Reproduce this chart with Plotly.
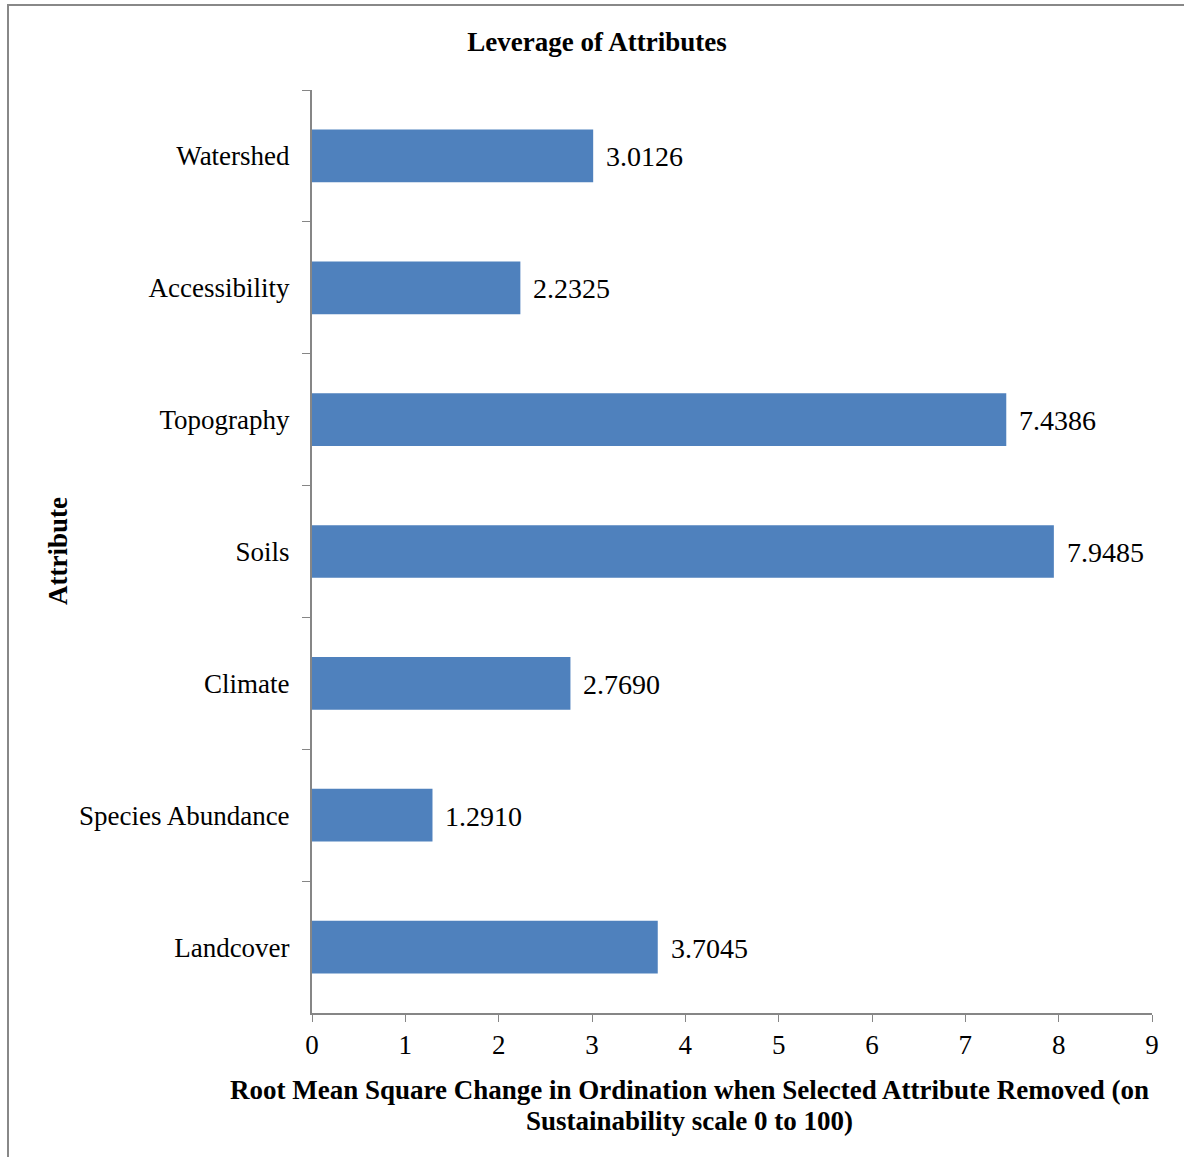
import plotly.graph_objects as go

categories = ["Watershed", "Accessibility", "Topography", "Soils", "Climate",
              "Species Abundance", "Landcover"]
values = [3.0126, 2.2325, 7.4386, 7.9485, 2.7690, 1.2910, 3.7045]
x_ticks = list(range(0, 10))
x_title_lines = ["Root Mean Square Change in Ordination when Selected Attribute Removed (on",
                 "Sustainability scale 0 to 100)"]

W, H = 1184, 1157
L, R, T, B = 312, 32, 90, 144
pw, ph = W - L - R, H - T - B

def px_x(p):
    return (p - L) / pw

def px_y(p):
    return (H - B - p) / ph

FONT = "Liberation Serif"
AX = "#868686"

fig = go.Figure(go.Bar(
    x=values, y=categories, orientation="h",
    marker=dict(color="#4F81BD", line=dict(width=0)),
    width=0.4,
))

for c, v in zip(categories, values):
    fig.add_annotation(x=v, y=c, text=f"{v:.4f}", showarrow=False,
                       xanchor="left", xshift=11, yshift=-1,
                       font=dict(family=FONT, size=28, color="black"))

for line, yc in zip(x_title_lines, [1090, 1121]):
    fig.add_annotation(xref="paper", yref="paper", x=px_x(689), y=px_y(yc),
                       xanchor="center", yanchor="middle", showarrow=False,
                       text=f"<b>{line}</b>",
                       font=dict(family=FONT, size=27, color="black"))
fig.add_annotation(xref="paper", yref="paper", x=px_x(58), y=px_y(551),
                   xanchor="center", yanchor="middle", showarrow=False, textangle=-90,
                   text="<b>Attribute</b>",
                   font=dict(family=FONT, size=27, color="black"))

# outer chart border
fig.add_shape(type="rect", xref="paper", yref="paper",
              x0=px_x(8), x1=px_x(1200), y0=px_y(1180), y1=px_y(5),
              line=dict(color="#888888", width=2), fillcolor="rgba(0,0,0,0)", layer="below")

fig.update_layout(
    width=W, height=H,
    margin=dict(l=L, r=R, t=T, b=B),
    paper_bgcolor="white", plot_bgcolor="white",
    showlegend=False,
    title=dict(text="<b>Leverage of Attributes</b>", x=597 / W, xanchor="center",
               y=1 - 42 / H, yanchor="middle",
               font=dict(family=FONT, size=27, color="black")),
    font=dict(family=FONT, size=27, color="black"),
)
fig.update_xaxes(range=[0, 9], tickvals=x_ticks, ticks="outside", ticklen=7,
                 tickcolor=AX, showline=True, linecolor=AX, linewidth=2,
                 showgrid=False, zeroline=False,
                 tickfont=dict(family=FONT, size=27, color="black"))
fig.update_yaxes(autorange="reversed", ticks="outside", ticklen=8, tickson="boundaries",
                 tickcolor=AX, showline=True, linecolor=AX, linewidth=2,
                 showgrid=False, zeroline=False, ticklabelstandoff=15,
                 tickfont=dict(family=FONT, size=27, color="black"))

fig.write_html("out.html")
